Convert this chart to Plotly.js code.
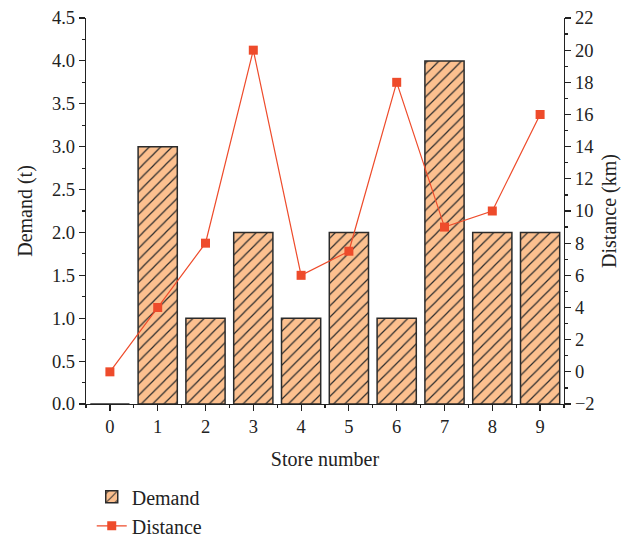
<!DOCTYPE html>
<html>
<head>
<meta charset="utf-8">
<script src="https://cdn.plot.ly/plotly-3.0.1.min.js"></script>
<style>body{margin:0;padding:0;background:#fff;} #chart{width:621px;height:538px;}</style>
</head>
<body>
<div id="chart"></div>
<script>
const stores = [0, 1, 2, 3, 4, 5, 6, 7, 8, 9];
const demand = [0, 3, 1, 2, 1, 2, 1, 4, 2, 2];
const distance = [0, 4, 8, 20, 6, 7.5, 18, 9, 10, 16];

const fontFam = '"Liberation Serif", "DejaVu Serif", serif';

const traces = [
  {
    type: 'bar',
    name: 'Demand',
    x: stores,
    y: demand,
    width: 0.82,
    marker: {
      color: '#FCC08F',
      line: {color: '#2b2b2b', width: 1.5},
      pattern: {shape: '/', fgcolor: '#2b2b2b', bgcolor: '#FCC08F', size: 8, solidity: 0.15}
    },
    yaxis: 'y'
  },
  {
    type: 'scatter',
    mode: 'lines+markers',
    name: 'Distance',
    x: stores,
    y: distance,
    line: {color: '#EE4B2B', width: 1.2},
    marker: {symbol: 'square', size: 9, color: '#EE4B2B'},
    yaxis: 'y2'
  }
];

const layout = {
  width: 621,
  height: 538,
  margin: {l: 86, r: 57, t: 18, b: 134, autoexpand: false},
  paper_bgcolor: '#fff',
  plot_bgcolor: '#fff',
  font: {family: fontFam, size: 18, color: '#222'},
  showlegend: true,
  legend: {
    x: 0.012, y: -0.19, xanchor: 'left', yanchor: 'top',
    orientation: 'v',
    font: {family: fontFam, size: 20, color: '#222'},
    tracegroupgap: 0, itemwidth: 30
  },
  xaxis: {
    range: [-0.5, 9.5],
    tickvals: stores,
    ticktext: stores.map(String),
    ticks: 'outside', ticklen: 6, tickwidth: 1.2, tickcolor: '#222',
    showline: true, linecolor: '#222', linewidth: 1.2,
    showgrid: false, zeroline: false,
    minor: {dtick: 0.5, tick0: 0.5, ticks: 'outside', ticklen: 3, tickcolor: '#222', showgrid: false},
    title: {text: 'Store number', font: {family: fontFam, size: 20}, standoff: 15},
    tickfont: {family: fontFam, size: 18.5}
  },
  yaxis: {
    range: [0, 4.5],
    dtick: 0.5, tick0: 0,
    tickformat: '.1f',
    ticks: 'outside', ticklen: 6, tickwidth: 1.2, tickcolor: '#222',
    showline: true, linecolor: '#222', linewidth: 1.2,
    showgrid: false, zeroline: false,
    minor: {dtick: 0.25, ticks: 'outside', ticklen: 3, tickcolor: '#222', showgrid: false},
    title: {text: 'Demand (t)', font: {family: fontFam, size: 20}, standoff: 14},
    tickfont: {family: fontFam, size: 18.5}
  },
  yaxis2: {
    overlaying: 'y',
    side: 'right',
    range: [-2, 22],
    dtick: 2, tick0: 0,
    ticks: 'outside', ticklen: 6, tickwidth: 1.2, tickcolor: '#222',
    showline: true, linecolor: '#222', linewidth: 1.2,
    showgrid: false, zeroline: false,
    minor: {dtick: 1, ticks: 'outside', ticklen: 3, tickcolor: '#222', showgrid: false},
    title: {text: 'Distance (km)', font: {family: fontFam, size: 20}, standoff: 14},
    tickfont: {family: fontFam, size: 18.5}
  }
};

Plotly.newPlot('chart', traces, layout, {displayModeBar: false, staticPlot: true});
</script>
</body>
</html>
